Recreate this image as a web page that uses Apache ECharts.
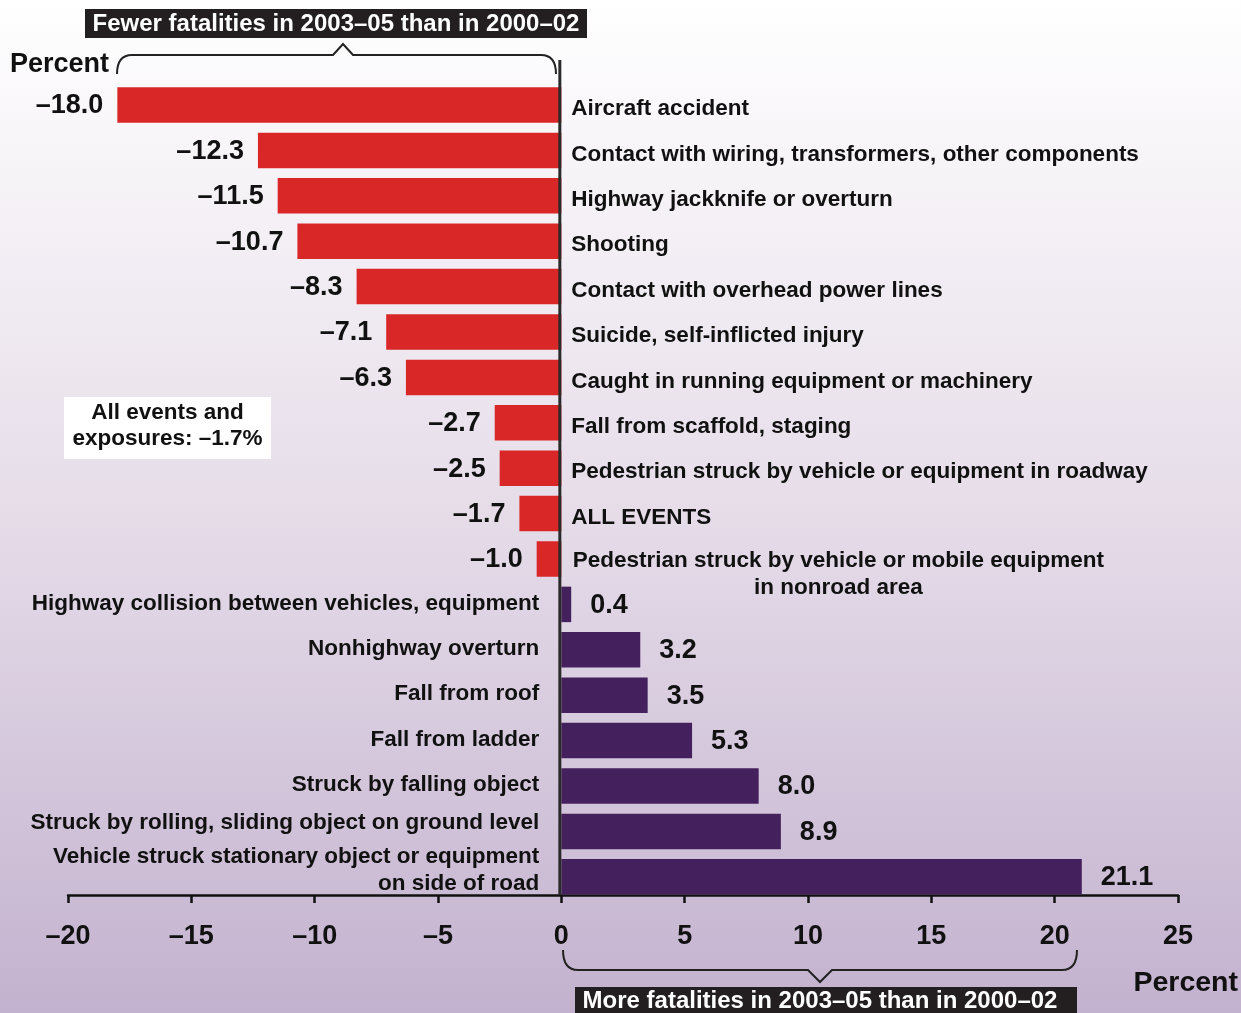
<!DOCTYPE html>
<html><head><meta charset="utf-8">
<script src="https://cdn.jsdelivr.net/npm/echarts@6/dist/echarts.min.js"></script>
<style>html,body{margin:0;padding:0;overflow:hidden;}#c{width:1241px;height:1013px;}</style>
</head><body><div id="c"></div>
<script>
// ---- data ----
const categories = [
  'Aircraft accident',
  'Contact with wiring, transformers, other components',
  'Highway jackknife or overturn',
  'Shooting',
  'Contact with overhead power lines',
  'Suicide, self-inflicted injury',
  'Caught in running equipment or machinery',
  'Fall from scaffold, staging',
  'Pedestrian struck by vehicle or equipment in roadway',
  'ALL EVENTS',
  'Pedestrian struck by vehicle or mobile equipment\nin nonroad area',
  'Highway collision between vehicles, equipment',
  'Nonhighway overturn',
  'Fall from roof',
  'Fall from ladder',
  'Struck by falling object',
  'Struck by rolling, sliding object on ground level',
  'Vehicle struck stationary object or equipment\non side of road'
];
const values = [-18.0, -12.3, -11.5, -10.7, -8.3, -7.1, -6.3, -2.7, -2.5, -1.7, -1.0, 0.4, 3.2, 3.5, 5.3, 8.0, 8.9, 21.1];
const axisRange = [-20, 25];
const axisStep = 5;
const topNote = 'Fewer fatalities in 2003\u201305 than in 2000\u201302';
const bottomNote = 'More fatalities in 2003\u201305 than in 2000\u201302';
const boxNote = 'All events and\nexposures: \u20131.7%';
const unitLabel = 'Percent';

// ---- style ----
const FONT = '"Liberation Sans", Arial, Helvetica, sans-serif';
const RED = '#d92728';
const PURPLE = '#44205d';
const INK = '#111111';
const fmt = v => (v < 0 ? '\u2013' : '') + Math.abs(v).toFixed(1);
// small vertical nudges of some category labels (as in the original layout)
const nameNudge = { 16: -9 };

const barData = values.map(v => ({
  value: v,
  itemStyle: { color: v < 0 ? RED : PURPLE },
  label: { position: v < 0 ? 'left' : 'right', distance: v < 0 ? 14 : 19, offset: [0, 1] }
}));
const nameData = values.map((v, i) => {
  const multi = categories[i].indexOf('\n') >= 0;
  const dy = (i in nameNudge) ? nameNudge[i] : (v < 0 ? 4 : -1);
  const lab = { position: v < 0 ? 'right' : 'left', distance: v < 0 ? 10 : 22, offset: [0, dy] };
  if (multi && v < 0) { lab.align = 'center'; lab.offset = [267, 15]; }
  if (multi && v >= 0) { lab.offset = [0, -7]; }
  return { value: v, label: lab };
});

const chart = echarts.init(document.getElementById('c'), null, { renderer: 'canvas' });
chart.setOption({
  animation: false,
  backgroundColor: {
    type: 'linear', x: 0, y: 0, x2: 0, y2: 1,
    colorStops: [{ offset: 0, color: '#ffffff' }, { offset: 0.5, color: '#e6dde9' }, { offset: 1, color: '#c3b2cf' }]
  },
  grid: { left: 68, right: 63, top: 82.3, bottom: 113.5, containLabel: false },
  xAxis: {
    type: 'value', min: axisRange[0], max: axisRange[1], interval: axisStep,
    position: 'bottom', offset: -4.5,
    axisLine: { show: true, onZero: false, lineStyle: { color: INK, width: 2.5 } },
    axisTick: { show: true, length: 8, lineStyle: { color: INK, width: 2.5 } },
    splitLine: { show: false },
    axisLabel: {
      margin: 28, color: INK, fontFamily: FONT, fontWeight: 'bold', fontSize: 27,
      formatter: v => (v < 0 ? '\u2013' + Math.abs(v) : String(v))
    }
  },
  yAxis: {
    type: 'category', data: categories, inverse: true, show: false
  },
  series: [
    {
      type: 'bar', data: barData, barWidth: 35.5, barGap: '-100%',
      label: {
        show: true, fontFamily: FONT, fontWeight: 'bold', fontSize: 27, color: INK,
        formatter: p => fmt(p.value)
      },
      z: 2
    },
    {
      type: 'bar', data: nameData, barWidth: 35.5, barGap: '-100%', silent: true,
      itemStyle: { color: 'rgba(0,0,0,0)' },
      label: {
        show: true, fontFamily: FONT, fontWeight: 'bold', fontSize: 22.5, color: INK, lineHeight: 27,
        formatter: p => categories[p.dataIndex]
      },
      z: 3
    }
  ]
});

// annotations
const zx = chart.convertToPixel({ xAxisIndex: 0 }, 0);
const axisY = 895;
const braceStyle = { stroke: '#222', lineWidth: 2, fill: null };
chart.setOption({
  graphic: [
    { type: 'line', shape: { x1: zx - 1.5, y1: 60, x2: zx - 1.5, y2: axisY }, style: { stroke: '#2a2a2a', lineWidth: 3 }, z: 10 },
    // top brace
    { type: 'bezierCurve', shape: { x1: 117, y1: 74, cpx1: 117, cpy1: 55, x2: 132, y2: 55 }, style: braceStyle, z: 10 },
    { type: 'polyline', shape: { points: [[132, 55], [333, 55], [343, 44], [353, 55], [541, 55]] }, style: braceStyle, z: 10 },
    { type: 'bezierCurve', shape: { x1: 541, y1: 55, cpx1: 556, cpy1: 55, x2: 556, y2: 74 }, style: braceStyle, z: 10 },
    { type: 'rect', shape: { x: 85, y: 9, width: 502, height: 29 }, style: { fill: '#231f20' }, z: 10 },
    { type: 'text', x: 336, y: 24, style: { text: topNote, fill: '#fff', font: 'bold 24px ' + FONT, align: 'center', verticalAlign: 'middle' }, z: 11 },
    { type: 'text', x: 10, y: 65, style: { text: unitLabel, fill: INK, font: 'bold 27px ' + FONT, align: 'left', verticalAlign: 'middle' }, z: 11 },
    // white box
    { type: 'rect', shape: { x: 64, y: 397, width: 207, height: 62 }, style: { fill: '#ffffff' }, z: 10 },
    { type: 'text', x: 167.5, y: 426, style: { text: boxNote, fill: INK, font: 'bold 22.5px ' + FONT, align: 'center', verticalAlign: 'middle', lineHeight: 26 }, z: 11 },
    // bottom brace
    { type: 'bezierCurve', shape: { x1: 563, y1: 950, cpx1: 563, cpy1: 970, x2: 578, y2: 970 }, style: braceStyle, z: 10 },
    { type: 'polyline', shape: { points: [[578, 970], [808, 970], [820, 982], [832, 970], [1062, 970]] }, style: braceStyle, z: 10 },
    { type: 'bezierCurve', shape: { x1: 1062, y1: 970, cpx1: 1077, cpy1: 970, x2: 1077, y2: 950 }, style: braceStyle, z: 10 },
    { type: 'rect', shape: { x: 575, y: 987, width: 502, height: 30 }, style: { fill: '#231f20' }, z: 10 },
    { type: 'text', x: 820, y: 1001, style: { text: bottomNote, fill: '#fff', font: 'bold 24px ' + FONT, align: 'center', verticalAlign: 'middle' }, z: 11 },
    { type: 'text', x: 1238, y: 983, style: { text: unitLabel, fill: INK, font: 'bold 28.5px ' + FONT, align: 'right', verticalAlign: 'middle' }, z: 11 }
  ]
});
</script>
</body></html>
